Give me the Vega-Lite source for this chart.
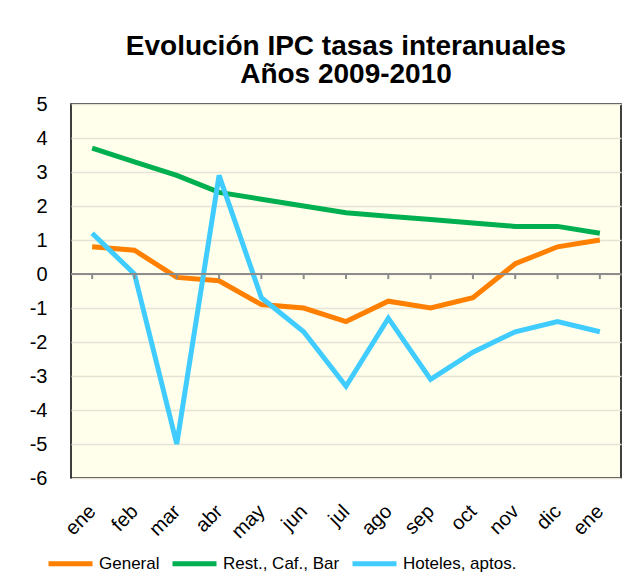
{
  "$schema": "https://vega.github.io/schema/vega-lite/v6.json",
  "width": 550,
  "height": 374,
  "autosize": "none",
  "padding": {"left": 71, "top": 104, "right": 13, "bottom": 99},
  "background": "white",
  "title": {
    "text": ["Evolución IPC tasas interanuales", "Años 2009-2010"],
    "font": "Liberation Sans",
    "fontSize": 28,
    "fontWeight": "bold",
    "color": "black",
    "anchor": "middle",
    "lineHeight": 28,
    "offset": 5
  },
  "config": {
    "view": {"fill": "#FFFFEB", "stroke": "black", "strokeWidth": 1.5},
    "font": "Liberation Sans",
    "axisX": {
      "title": null,
      "domain": false,
      "ticks": false,
      "grid": false,
      "labelAngle": -45,
      "labelAlign": "right",
      "labelBaseline": "middle",
      "labelFontSize": 20,
      "labelColor": "black",
      "labelPadding": 30
    },
    "axisY": {
      "title": null,
      "domain": false,
      "ticks": false,
      "labelFontSize": 20,
      "labelColor": "black",
      "labelPadding": 24,
      "gridColor": "#E6E2D6",
      "gridWidth": 1.5
    }
  },
  "data": {
    "values": [
      {"i": 0, "serie": "General", "v": 0.8},
      {"i": 1, "serie": "General", "v": 0.7},
      {"i": 2, "serie": "General", "v": -0.1},
      {"i": 3, "serie": "General", "v": -0.2},
      {"i": 4, "serie": "General", "v": -0.9},
      {"i": 5, "serie": "General", "v": -1.0},
      {"i": 6, "serie": "General", "v": -1.4},
      {"i": 7, "serie": "General", "v": -0.8},
      {"i": 8, "serie": "General", "v": -1.0},
      {"i": 9, "serie": "General", "v": -0.7},
      {"i": 10, "serie": "General", "v": 0.3},
      {"i": 11, "serie": "General", "v": 0.8},
      {"i": 12, "serie": "General", "v": 1.0},
      {"i": 0, "serie": "Rest., Caf., Bar", "v": 3.7},
      {"i": 1, "serie": "Rest., Caf., Bar", "v": 3.3},
      {"i": 2, "serie": "Rest., Caf., Bar", "v": 2.9},
      {"i": 3, "serie": "Rest., Caf., Bar", "v": 2.4},
      {"i": 4, "serie": "Rest., Caf., Bar", "v": 2.2},
      {"i": 5, "serie": "Rest., Caf., Bar", "v": 2.0},
      {"i": 6, "serie": "Rest., Caf., Bar", "v": 1.8},
      {"i": 7, "serie": "Rest., Caf., Bar", "v": 1.7},
      {"i": 8, "serie": "Rest., Caf., Bar", "v": 1.6},
      {"i": 9, "serie": "Rest., Caf., Bar", "v": 1.5},
      {"i": 10, "serie": "Rest., Caf., Bar", "v": 1.4},
      {"i": 11, "serie": "Rest., Caf., Bar", "v": 1.4},
      {"i": 12, "serie": "Rest., Caf., Bar", "v": 1.2},
      {"i": 0, "serie": "Hoteles, aptos.", "v": 1.2},
      {"i": 1, "serie": "Hoteles, aptos.", "v": 0.0},
      {"i": 2, "serie": "Hoteles, aptos.", "v": -5.0},
      {"i": 3, "serie": "Hoteles, aptos.", "v": 2.9},
      {"i": 4, "serie": "Hoteles, aptos.", "v": -0.7},
      {"i": 5, "serie": "Hoteles, aptos.", "v": -1.7},
      {"i": 6, "serie": "Hoteles, aptos.", "v": -3.3},
      {"i": 7, "serie": "Hoteles, aptos.", "v": -1.3},
      {"i": 8, "serie": "Hoteles, aptos.", "v": -3.1},
      {"i": 9, "serie": "Hoteles, aptos.", "v": -2.3},
      {"i": 10, "serie": "Hoteles, aptos.", "v": -1.7},
      {"i": 11, "serie": "Hoteles, aptos.", "v": -1.4},
      {"i": 12, "serie": "Hoteles, aptos.", "v": -1.7}
    ]
  },
  "encoding": {
    "x": {
      "field": "i",
      "type": "ordinal",
      "scale": {"type": "point", "padding": 0.5},
      "axis": {
        "labelExpr": "['ene','feb','mar','abr','may','jun','jul','ago','sep','oct','nov','dic','ene'][datum.value]"
      }
    }
  },
  "layer": [
    {
      "mark": {"type": "line", "strokeWidth": 5, "strokeJoin": "miter"},
      "encoding": {
        "y": {
          "field": "v",
          "type": "quantitative",
          "scale": {"domain": [-6, 5], "nice": false, "zero": false},
          "axis": {
            "values": [-6, -5, -4, -3, -2, -1, 0, 1, 2, 3, 4, 5],
            "labelExpr": "'' + datum.value",
            "labelOverlap": false
          }
        },
        "color": {
          "field": "serie",
          "type": "nominal",
          "scale": {
            "domain": ["General", "Rest., Caf., Bar", "Hoteles, aptos."],
            "range": ["#FF8000", "#00B050", "#40CCFF"]
          },
          "legend": {
            "title": null,
            "orient": "none",
            "direction": "horizontal",
            "legendX": -25,
            "legendY": 435,
            "symbolType": "stroke",
            "symbolSize": 1936,
            "symbolStrokeWidth": 5,
            "labelFontSize": 17,
            "labelColor": "black",
            "labelOffset": 4,
            "columnPadding": 2
          }
        }
      }
    },
    {
      "mark": {"type": "rule", "color": "#8C8C8C", "strokeWidth": 2},
      "transform": [{"filter": "datum.serie == 'General'"}],
      "encoding": {
        "y": {
          "datum": 0,
          "type": "quantitative",
          "axis": {
            "values": [-6, -5, -4, -3, -2, -1, 0, 1, 2, 3, 4, 5],
            "labelExpr": "'' + datum.value",
            "labelOverlap": false
          }
        },
        "y2": {"datum": -0.15}
      }
    },
    {
      "mark": {"type": "rule", "color": "#8C8C8C", "strokeWidth": 2},
      "encoding": {
        "x": null,
        "y": {
          "datum": 0,
          "type": "quantitative",
          "axis": {
            "values": [-6, -5, -4, -3, -2, -1, 0, 1, 2, 3, 4, 5],
            "labelExpr": "'' + datum.value",
            "labelOverlap": false
          }
        }
      }
    }
  ]
}
